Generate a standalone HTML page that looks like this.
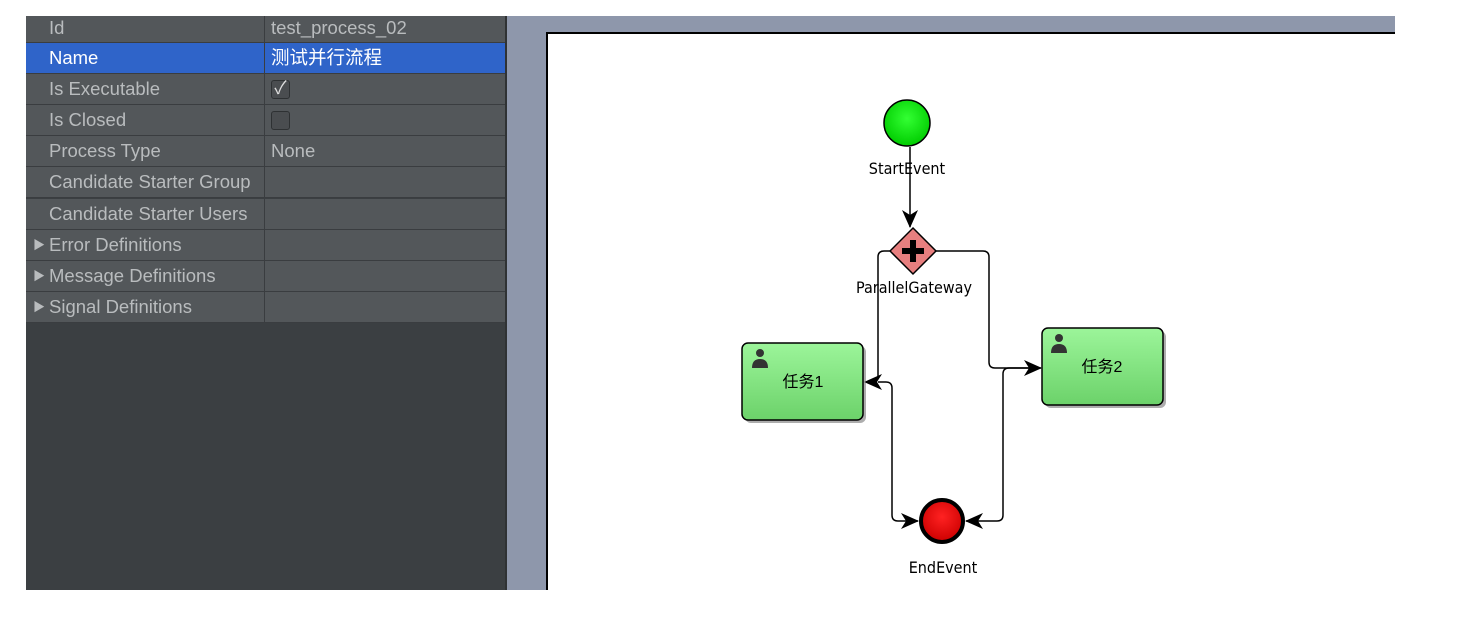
<!DOCTYPE html>
<html><head><meta charset="utf-8"><style>
body{margin:0;width:1482px;height:628px;background:#fff;position:relative;overflow:hidden;font-family:"Liberation Sans","Noto Sans CJK SC",sans-serif}
#left{position:absolute;left:26px;top:16px;width:479px;height:574px;background:#3b3f42}
.row{position:absolute;left:0;width:479px;height:30px;background:#53575a;border-bottom:1px solid #3a3d40;color:#b9bcbe;font-size:18.5px;line-height:30px}
.row .k{position:absolute;left:23px}
.row .v{position:absolute;left:245px}
.row .d{position:absolute;left:238px;top:0;width:1px;height:31px;background:#3a3d40}
.sel{background:#2f64c9;color:#fff}
.tri{position:absolute;left:7px;font-size:12px}
.cb{position:absolute;left:245px;top:6px;width:17px;height:17px;border:1px solid #2e3133;border-radius:3px;background:#4a4d50}
#sep{position:absolute;left:505px;top:16px;width:2px;height:574px;background:#2f3234}
#gray{position:absolute;left:507px;top:16px;width:888px;height:574px;background:#8e97ab}
#canvas{position:absolute;left:546px;top:32px;width:849px;height:558px;background:#fff;border-left:2px solid #000;border-top:2px solid #000;box-sizing:border-box}
</style></head><body>
<div id="left">
<div class="row" style="top:0;height:26px;line-height:24px"><span class="k">Id</span><span class="d"></span><span class="v">test_process_02</span></div>
<div class="row sel" style="top:27px"><span class="k">Name</span><span class="d"></span><span class="v">测试并行流程</span></div>
<div class="row" style="top:58px"><span class="k">Is Executable</span><span class="d"></span><span class="cb" style="color:#ddd;font-size:18px;line-height:15px;text-align:center">✓</span></div>
<div class="row" style="top:89px"><span class="k">Is Closed</span><span class="d"></span><span class="cb"></span></div>
<div class="row" style="top:120px"><span class="k">Process Type</span><span class="d"></span><span class="v">None</span></div>
<div class="row" style="top:151px"><span class="k">Candidate Starter Group</span><span class="d"></span></div>
<div class="row" style="top:183px"><span class="k">Candidate Starter Users</span><span class="d"></span></div>
<div class="row" style="top:214px"><span class="tri">▶</span><span class="k">Error Definitions</span><span class="d"></span></div>
<div class="row" style="top:245px"><span class="tri">▶</span><span class="k">Message Definitions</span><span class="d"></span></div>
<div class="row" style="top:276px"><span class="tri">▶</span><span class="k">Signal Definitions</span><span class="d"></span></div>
</div>
<div id="sep"></div>
<div id="gray"></div>
<div id="canvas"></div>
<svg style="position:absolute;left:0;top:0" width="1482" height="628">
<defs>
<linearGradient id="gg" x1="0" y1="0" x2="0" y2="1"><stop offset="0" stop-color="#9cf59a"/><stop offset="1" stop-color="#6cd26a"/></linearGradient>
<radialGradient id="sg" cx="0.5" cy="0.4" r="0.6"><stop offset="0" stop-color="#3f3"/><stop offset="1" stop-color="#0c0"/></radialGradient>
<radialGradient id="eg" cx="0.5" cy="0.4" r="0.6"><stop offset="0" stop-color="#f22"/><stop offset="1" stop-color="#c00"/></radialGradient>
<marker id="ar" markerWidth="18" markerHeight="16" refX="17" refY="8" orient="auto" markerUnits="userSpaceOnUse"><path d="M0,0 L18,8 L0,16 L5,8 Z" fill="#000"/></marker>
</defs>
<g fill="none" stroke="#000" stroke-width="1.5">
<path d="M910,147 V227" marker-end="url(#ar)"/>
<path d="M890,251 H884 Q878,251 878,257 V376 Q878,382 872,382 H865" marker-end="url(#ar)"/>
<path d="M936,251 H983 Q989,251 989,257 V362 Q989,368 995,368 H1041" marker-end="url(#ar)"/>
<path d="M878,382 H886 Q892,382 892,388 V515 Q892,521 898,521 H918" marker-end="url(#ar)"/>
<path d="M1030,368 H1009 Q1003,368 1003,374 V515 Q1003,521 997,521 H966" marker-end="url(#ar)"/>
</g>
<circle cx="907" cy="123" r="23" fill="url(#sg)" stroke="#000" stroke-width="1.5"/>
<text x="907" y="174" font-size="16" text-anchor="middle" font-family="DejaVu Sans Condensed,Liberation Sans,sans-serif">StartEvent</text>
<path d="M913,228 L936,251 L913,274 L890,251 Z" fill="#e77f7f" stroke="#000" stroke-width="1.5"/>
<path d="M910,240 h6 v8 h8 v6 h-8 v8 h-6 v-8 h-8 v-6 h8 z" fill="#000"/>
<text x="914" y="293" font-size="16" text-anchor="middle" font-family="DejaVu Sans Condensed,Liberation Sans,sans-serif">ParallelGateway</text>
<rect x="745" y="346" width="121" height="77" rx="6" fill="#777" opacity="0.6"/>
<rect x="742" y="343" width="121" height="77" rx="6" fill="url(#gg)" stroke="#000" stroke-width="1.5"/>
<circle cx="760" cy="353" r="4" fill="#333"/><path d="M752,368 q0,-9 8,-9 q8,0 8,9z" fill="#333"/>
<text x="803" y="387" font-size="16" text-anchor="middle">任务1</text>
<rect x="1045" y="331" width="121" height="77" rx="6" fill="#777" opacity="0.6"/>
<rect x="1042" y="328" width="121" height="77" rx="6" fill="url(#gg)" stroke="#000" stroke-width="1.5"/>
<circle cx="1059" cy="338" r="4" fill="#333"/><path d="M1051,353 q0,-9 8,-9 q8,0 8,9z" fill="#333"/>
<text x="1102" y="372" font-size="16" text-anchor="middle">任务2</text>
<circle cx="942" cy="521" r="21" fill="url(#eg)" stroke="#000" stroke-width="4"/>
<text x="943" y="573" font-size="16" text-anchor="middle" font-family="DejaVu Sans Condensed,Liberation Sans,sans-serif">EndEvent</text>
</svg>
</body></html>
